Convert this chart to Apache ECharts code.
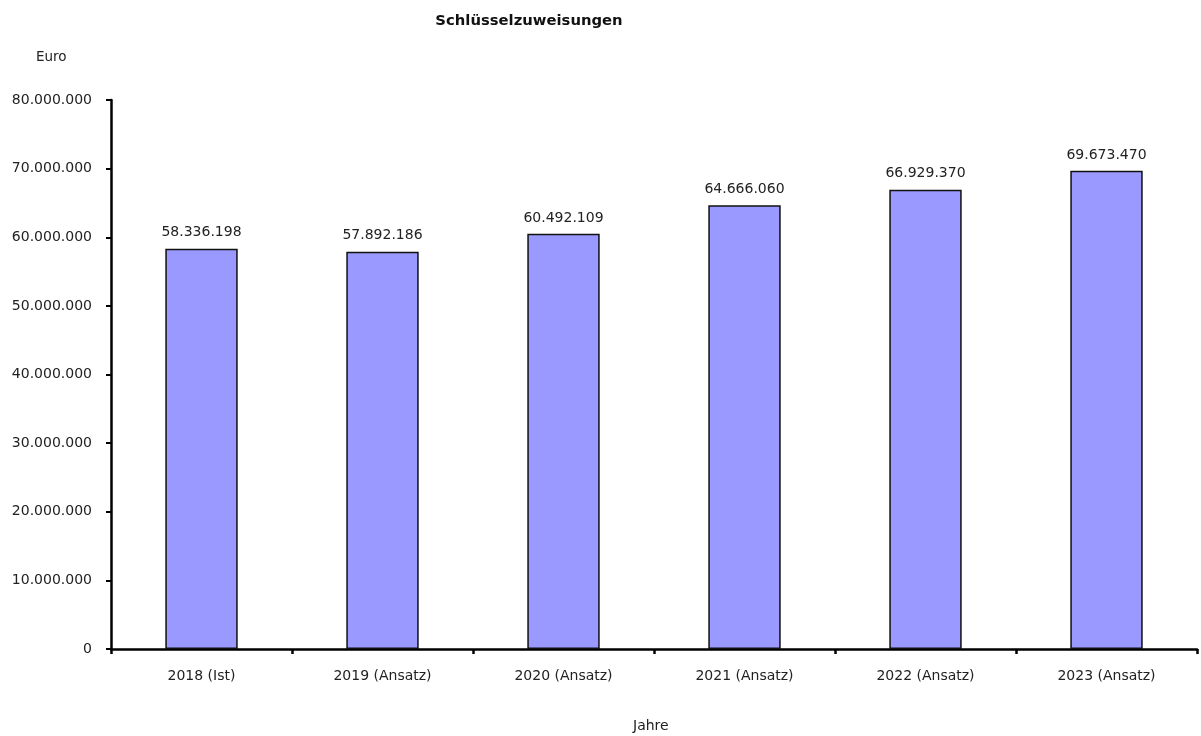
<!DOCTYPE html>
<html>
<head>
<meta charset="utf-8">
<script src="https://cdn.jsdelivr.net/npm/echarts@6/dist/echarts.min.js"></script>
<style>
  html, body { margin: 0; padding: 0; background: #fff; }
  #chart { width: 1201px; height: 736px; }
</style>
</head>
<body>
<div id="chart"></div>
<script>
// Daten
const years = ["2018 (Ist)", "2019 (Ansatz)", "2020 (Ansatz)", "2021 (Ansatz)", "2022 (Ansatz)", "2023 (Ansatz)"];
const amounts = [58336198, 57892186, 60492109, 64666060, 66929370, 69673470];

const fontFamily = "'DejaVu Sans', sans-serif";
// Zahlen mit Punkt als Tausendertrenner
const fmt = (v) => String(Math.round(v)).replace(/\B(?=(\d{3})+(?!\d))/g, ".");

const chart = echarts.init(document.getElementById("chart"));
chart.setOption({
  animation: false,
  textStyle: { fontFamily: fontFamily, color: "#222" },
  title: {
    text: "Schlüsselzuweisungen",
    left: 524,
    top: 9,
    textAlign: "center",
    textStyle: { fontSize: 14.8, fontWeight: "bold", color: "#111", fontFamily: fontFamily },
  },
  grid: { left: 111, right: 4, top: 100, bottom: 87, containLabel: false },
  graphic: [
    { type: "text", left: 36, top: 50, style: { text: "Euro", fontSize: 13.5, fill: "#222", fontFamily: fontFamily } },
    { type: "text", left: 633, top: 719, style: { text: "Jahre", fontSize: 14, fill: "#222", fontFamily: fontFamily } },
  ],
  xAxis: {
    type: "category",
    data: years,
    axisLine: { lineStyle: { color: "#000", width: 2.5 } },
    axisTick: { show: true, alignWithLabel: false, length: 5, lineStyle: { color: "#000", width: 2.5 } },
    axisLabel: { fontSize: 14, color: "#222", margin: 20 },
  },
  yAxis: {
    type: "value",
    min: 0,
    max: 80000000,
    interval: 10000000,
    splitLine: { show: false },
    axisLine: { show: true, lineStyle: { color: "#000", width: 2.5 } },
    axisTick: { show: true, length: 5, lineStyle: { color: "#000", width: 2 } },
    axisLabel: { fontSize: 14, color: "#222", margin: 19, formatter: fmt },
  },
  series: [
    {
      type: "bar",
      data: amounts,
      barWidth: "40%",
      itemStyle: { color: "#9999FF", borderColor: "#111", borderWidth: 1.5 },
      label: {
        show: true,
        position: "top",
        distance: 9,
        fontSize: 14,
        color: "#222",
        formatter: (p) => fmt(p.value),
      },
    },
  ],
});
</script>
</body>
</html>
